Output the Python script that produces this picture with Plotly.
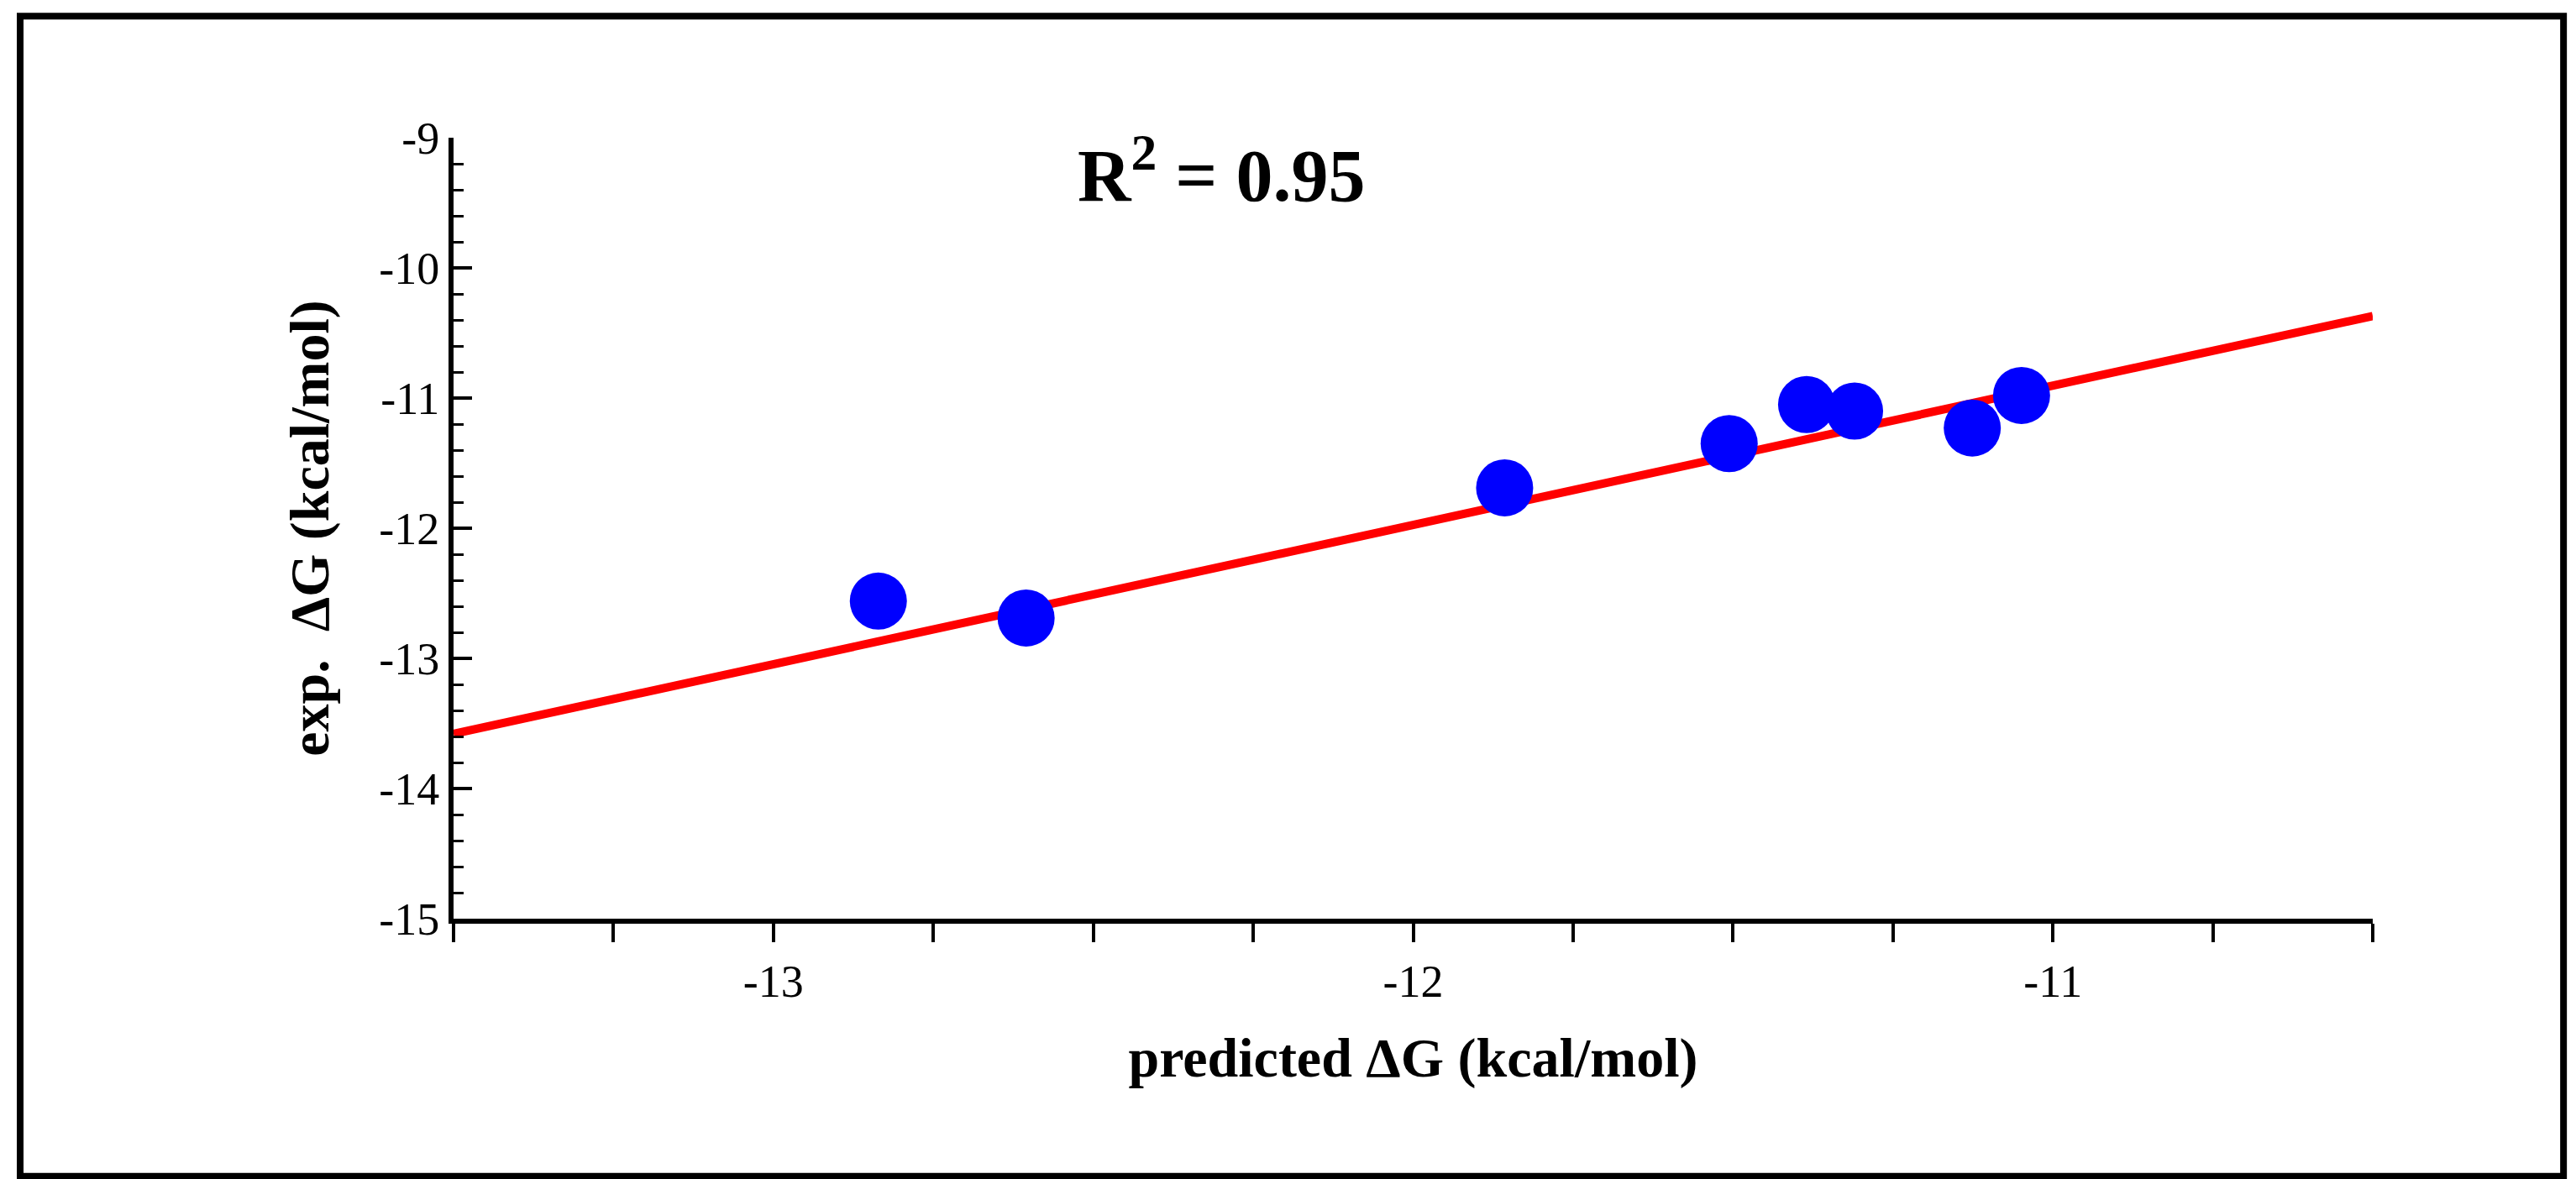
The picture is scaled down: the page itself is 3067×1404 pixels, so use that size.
import plotly.graph_objects as go

pred = [-12.836, -12.605, -11.857, -11.506, -11.385, -11.31, -11.126, -11.049]
exp_ = [-12.56, -12.69, -11.69, -11.35, -11.05, -11.10, -11.23, -10.98]
fit_x = [-13.5, -10.5]
fit_y = [-13.58, -10.37]
xticks = [-13, -12, -11]
yticks = [-15, -14, -13, -12, -11, -10, -9]

F = "Liberation Serif"
fig = go.Figure()
fig.add_trace(go.Scatter(x=fit_x, y=fit_y, mode="lines", line=dict(color="#ff0000", width=10), showlegend=False))
fig.add_trace(go.Scatter(x=pred, y=exp_, mode="markers", marker=dict(color="#0000ff", size=68, line=dict(width=0)), showlegend=False))

fig.update_layout(
    width=3067, height=1404, plot_bgcolor="white", paper_bgcolor="white",
    margin=dict(l=532, r=250, t=156, b=318),
    xaxis=dict(range=[-13.5, -10.5], tickvals=xticks, ticktext=[str(v) for v in xticks],
               ticks="outside", ticklen=22, tickwidth=4, tickcolor="black",
               minor=dict(dtick=0.25, ticks="outside", ticklen=22, tickwidth=4, tickcolor="black"),
               showgrid=False, zeroline=False, showline=True, linecolor="black", linewidth=6,
               tickfont=dict(family=F, size=54, color="black"),
               title=dict(text="<b>predicted ΔG (kcal/mol)</b>", font=dict(family=F, size=66, color="black"), standoff=40)),
    yaxis=dict(range=[-15, -9], tickvals=yticks, ticktext=[str(v) for v in yticks],
               ticks="inside", ticklen=22, tickwidth=4, tickcolor="black",
               minor=dict(dtick=0.2, ticks="inside", ticklen=12, tickwidth=3, tickcolor="black"),
               showgrid=False, zeroline=False, showline=True, linecolor="black", linewidth=6,
               tickfont=dict(family=F, size=54, color="black"),
               title=dict(text="<b>exp.  ΔG (kcal/mol)</b>", font=dict(family=F, size=66, color="black"), standoff=40)),
    annotations=[dict(x=-12.3, y=-9.25, xref="x", yref="y", showarrow=False,
                      text="<b>R<sup>2</sup> = 0.95</b>", font=dict(family=F, size=88, color="black"))],
    shapes=[dict(type="rect", xref="paper", yref="paper", x0=-532/2285+0.007, x1=1+250/2285-0.01,
                 y0=-318/930+0.012, y1=1+156/930-0.012, line=dict(color="black", width=8))],
)
fig.write_html("out.html")
